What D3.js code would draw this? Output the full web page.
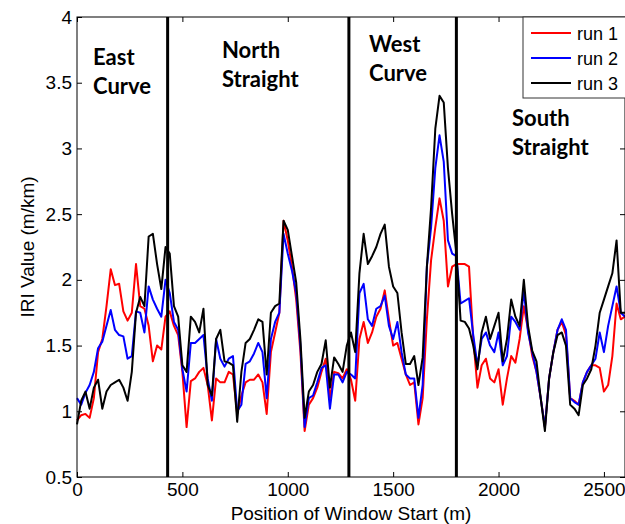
<!DOCTYPE html>
<html>
<head>
<meta charset="utf-8">
<script src="https://cdn.jsdelivr.net/npm/d3@7"></script>
<style>
  body { margin: 0; background: #fff; }
  svg { display: block; }
</style>
</head>
<body>
<div id="chart"></div>
<script>
// window start positions are sampled every 20 m, from 0 to 2600 m
const windowStep = 20;

// IRI values (m/km), one row = 10 windows (200 m)
const run1 = [
  0.93, 0.97, 0.98, 0.95, 1.10, 1.45, 1.55, 1.80, 2.08, 1.96,
  1.97, 1.76, 1.69, 1.75, 2.12, 1.80, 1.78, 1.65, 1.38, 1.50,
  1.47, 1.72, 1.76, 1.65, 1.58, 1.30, 0.88, 1.23, 1.25, 1.30,
  1.33, 1.20, 0.93, 1.25, 1.22, 1.22, 1.30, 1.28, 0.98, 1.12,
  1.22, 1.24, 1.24, 1.28, 1.22, 0.98, 1.45, 1.60, 1.75, 2.45,
  2.30, 2.10, 1.85, 1.45, 0.85, 1.05, 1.10, 1.18, 1.30, 1.40,
  1.10, 1.30, 1.29, 1.25, 1.32, 1.24, 1.08, 1.55, 1.68, 1.52,
  1.60, 1.72, 1.78, 1.92, 1.70, 1.50, 1.52, 1.40, 1.28, 1.20,
  1.22, 0.90, 1.10, 1.70, 2.15, 2.40, 2.62, 2.45, 1.95, 2.10,
  2.12, 2.12, 2.12, 2.10, 1.55, 1.18, 1.35, 1.40, 1.25, 1.22,
  1.32, 1.05, 1.25, 1.42, 1.37, 1.55, 1.80, 1.62, 1.42, 1.30,
  1.10, 0.88, 1.25, 1.45, 1.62, 1.68, 1.58, 1.10, 1.08, 1.05,
  1.22, 1.30, 1.35, 1.35, 1.33, 1.15, 1.20, 1.42, 1.82, 1.70,
  1.72
];
const run2 = [
  1.10, 1.05, 1.14, 1.20, 1.30, 1.48, 1.53, 1.65, 1.77, 1.62,
  1.58, 1.57, 1.40, 1.42, 1.76, 1.75, 1.60, 1.95, 1.85, 1.78,
  1.72, 2.00, 1.90, 1.68, 1.62, 1.32, 1.15, 1.52, 1.52, 1.55,
  1.58, 1.25, 1.08, 1.55, 1.40, 1.34, 1.40, 1.42, 1.00, 1.05,
  1.36, 1.38, 1.44, 1.52, 1.45, 1.10, 1.55, 1.68, 1.75, 2.35,
  2.20, 2.07, 1.90, 1.50, 0.88, 1.10, 1.12, 1.22, 1.33, 1.35,
  1.02, 1.28, 1.28, 1.22, 1.30, 1.28, 1.25, 1.90, 1.97, 1.70,
  1.65, 1.78, 1.80, 1.88, 1.65, 1.55, 1.68, 1.45, 1.28, 1.25,
  1.25, 0.95, 1.20, 2.10, 2.40, 2.85, 3.10, 2.90, 2.30, 2.20,
  2.18, 1.82, 1.84, 1.86, 1.58, 1.35, 1.55, 1.60, 1.50, 1.45,
  1.60, 1.35, 1.42, 1.72, 1.68, 1.62, 1.92, 1.60, 1.45, 1.30,
  1.10, 0.88, 1.25, 1.45, 1.62, 1.70, 1.62, 1.10, 1.07, 1.05,
  1.22, 1.30, 1.35, 1.40, 1.60, 1.45, 1.65, 1.80, 1.95, 1.75,
  1.72
];
const run3 = [
  0.90, 1.08, 1.15, 1.02, 1.18, 1.24, 1.02, 1.15, 1.20, 1.22,
  1.24, 1.18, 1.08, 1.30, 1.75, 1.87, 1.80, 2.33, 2.35, 2.12,
  1.93, 2.25, 2.20, 1.80, 1.72, 1.35, 1.30, 1.72, 1.68, 1.60,
  1.78, 1.20, 1.12, 1.55, 1.62, 1.38, 1.37, 1.35, 0.92, 1.30,
  1.52, 1.55, 1.62, 1.70, 1.68, 1.28, 1.75, 1.80, 1.82, 2.45,
  2.38, 2.18, 1.98, 1.55, 0.95, 1.15, 1.20, 1.30, 1.36, 1.54,
  1.18, 1.41, 1.36, 1.30, 1.50, 1.60, 1.45, 2.05, 2.35, 2.12,
  2.18, 2.25, 2.35, 2.42, 2.10, 1.95, 1.90, 1.60, 1.36, 1.36,
  1.42, 1.20, 1.41, 2.10, 2.55, 3.15, 3.40, 3.35, 2.85, 2.50,
  2.20, 1.69, 1.68, 1.63, 1.50, 1.32, 1.60, 1.72, 1.55, 1.65,
  1.75, 1.38, 1.55, 1.85, 1.72, 1.65, 2.00, 1.65, 1.46, 1.38,
  1.10, 0.85, 1.25, 1.45, 1.58, 1.60, 1.50, 1.05, 1.02, 0.97,
  1.20, 1.25, 1.32, 1.50, 1.75, 1.85, 1.95, 2.05, 2.30, 1.75,
  1.75
];

const runNames = ["run 1", "run 2", "run 3"];
const runColors = ["#ff0000", "#0000ff", "#000000"];

// section borders along the track (m)
const sectionBounds = [430, 1290, 1800];
const sectionNames = [["East", "Curve"], ["North", "Straight"], ["West", "Curve"], ["South", "Straight"]];

const xTicks = [0, 500, 1000, 1500, 2000, 2500];
const yTicks = [0.5, 1, 1.5, 2, 2.5, 3, 3.5, 4];

const width = 625, height = 524;
const margin = { top: 17, right: 0, bottom: 47, left: 77 };
const plotW = width - margin.left - margin.right;
const plotH = height - margin.top - margin.bottom;

const svg = d3.select("#chart").append("svg")
  .attr("width", width)
  .attr("height", height)
  .style("font-family", "'Liberation Sans', Arial, sans-serif");

const g = svg.append("g")
  .attr("transform", `translate(${margin.left},${margin.top})`);

const x = d3.scaleLinear().domain([0, 2600]).range([0, plotW]);
const y = d3.scaleLinear().domain([0.5, 4]).range([plotH, 0]);

// axes, MATLAB style: ticks inside on all four sides
const styleAxis = sel => {
  sel.select(".domain").remove();
  sel.selectAll(".tick line").attr("stroke", "#000");
  sel.selectAll(".tick text").attr("fill", "#000").style("font-size", "19px");
};

g.append("g")
  .attr("transform", `translate(0,${plotH})`)
  .call(d3.axisBottom(x).tickValues(xTicks).tickSize(-5).tickPadding(6).tickFormat(d3.format("d")))
  .call(styleAxis);

g.append("g")
  .call(d3.axisLeft(y).tickValues(yTicks).tickSize(-5).tickPadding(5).tickFormat(d => d))
  .call(styleAxis);

g.append("g")
  .call(d3.axisTop(x).tickValues(xTicks).tickSize(-5).tickFormat(""))
  .call(styleAxis);

g.append("g")
  .attr("transform", `translate(${plotW},0)`)
  .call(d3.axisRight(y).tickValues(yTicks).tickSize(-5).tickFormat(""))
  .call(styleAxis);

// runs
const line = d3.line()
  .x((d, i) => x(i * windowStep))
  .y(d => y(d));

[run1, run2, run3].forEach((run, k) => {
  g.append("path")
    .datum(run)
    .attr("fill", "none")
    .attr("stroke", runColors[k])
    .attr("stroke-width", 2)
    .attr("stroke-linejoin", "round")
    .attr("d", line);
});

// section borders
g.selectAll(".bound")
  .data(sectionBounds)
  .enter().append("line")
  .attr("class", "bound")
  .attr("x1", d => x(d)).attr("x2", d => x(d))
  .attr("y1", 0).attr("y2", plotH)
  .attr("stroke", "#000")
  .attr("stroke-width", 3);

// frame
g.append("rect")
  .attr("x", 0).attr("y", 0)
  .attr("width", plotW).attr("height", plotH)
  .attr("fill", "none")
  .attr("stroke", "#000")
  .attr("stroke-width", 1);

// section labels (left x, first baseline in px inside the plot)
const labelPos = [[16, 48], [145, 41], [292, 35], [435, 109]];
sectionNames.forEach((lines, k) => {
  const t = g.append("text")
    .attr("x", labelPos[k][0])
    .attr("y", labelPos[k][1])
    .style("font-family", "Lato, 'Open Sans', sans-serif")
    .style("font-weight", "bold")
    .style("font-size", "22px")
    .attr("fill", "#000");
  lines.forEach((s, j) => {
    t.append("tspan")
      .attr("x", labelPos[k][0])
      .attr("dy", j === 0 ? 0 : 29)
      .text(s);
  });
});

// legend
const legend = svg.append("g").attr("transform", "translate(523,17)");
legend.append("rect")
  .attr("width", 110).attr("height", 81)
  .attr("fill", "#fff")
  .attr("stroke", "#333")
  .attr("stroke-width", 1);

runNames.forEach((name, k) => {
  const row = legend.append("g").attr("transform", `translate(0,${16 + k * 25})`);
  row.append("line")
    .attr("x1", 8).attr("x2", 48)
    .attr("stroke", runColors[k])
    .attr("stroke-width", 2);
  row.append("text")
    .attr("x", 54).attr("y", 7)
    .style("font-size", "18px")
    .attr("fill", "#000")
    .text(name);
});

// axis titles
svg.append("text")
  .attr("x", margin.left + plotW / 2)
  .attr("y", 520)
  .attr("text-anchor", "middle")
  .style("font-size", "19px")
  .text("Position of Window Start (m)");

svg.append("text")
  .attr("transform", "rotate(-90)")
  .attr("x", -(margin.top + plotH / 2))
  .attr("y", 34)
  .attr("text-anchor", "middle")
  .style("font-size", "19px")
  .text("IRI Value (m/km)");
</script>
</body>
</html>
